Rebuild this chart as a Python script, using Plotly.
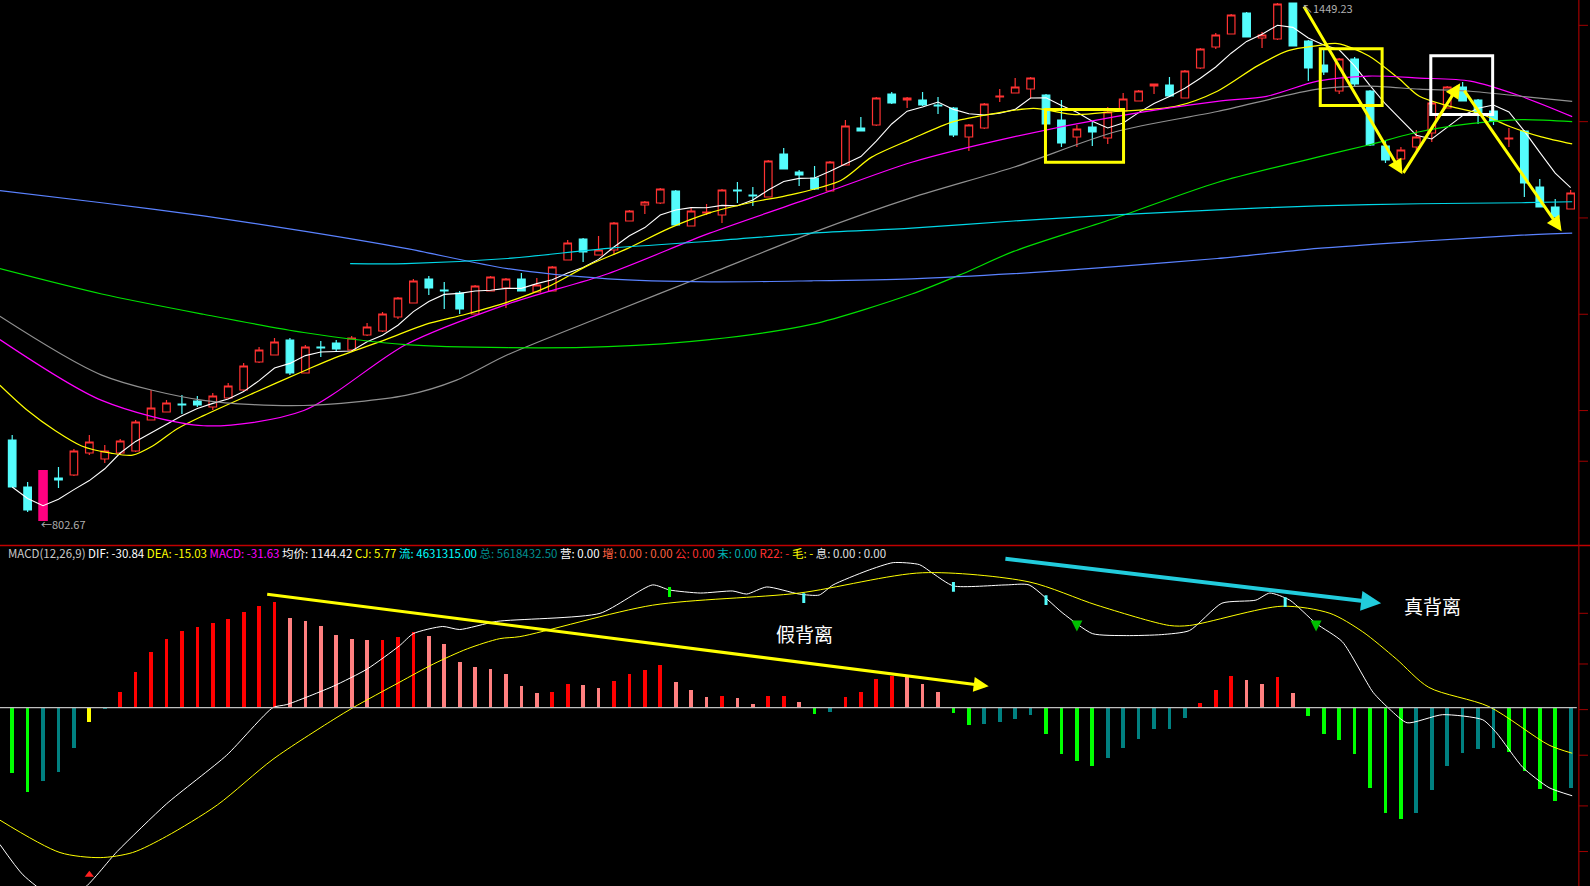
import plotly.graph_objects as go
import pandas as pd
import numpy as np

# ---------------- data ----------------
# Candles: direction, body top, body bottom, high, low (read on the screenshot, 886-px scale)
direction = list("CCMCRRRRRRRCCRRRRRCRCCRRRRRCCCRRRCRRRCRRRRRCRRRCCRCCCRRCRCRCCCRRRRRCCRCRRRRCRRRRCRRCCCRCCCRRRRCCCRCCCR")
body_top = [440,487,471,478,451,442,451,441,422,408,403,404,401,396,386,366,350,342,340,347,
            347,343,338,327,314,298,281,279,290,293,286,277,279,279,285,267,243,239,250,223,
            211,202,189,191,211,212,190,190,195,161,154,172,178,162,126,128,98,94,98,100,
            105,108,125,104,96,87,78,95,120,129,127,112,99,91,84,85,71,49,35,15,
            13,35,4,3,41,65,59,59,91,146,150,137,103,87,87,100,111,138,131,187,207,193]
body_bot = [487,510,520,480,475,453,459,453,451,420,412,405,405,407,398,390,362,355,373,373,
            348,349,350,335,331,317,303,288,291,309,314,291,288,291,292,291,260,252,255,250,
            221,205,203,225,226,213,215,191,196,197,169,175,189,191,165,131,125,103,100,105,
            106,135,137,128,97,93,89,124,143,137,132,138,111,101,86,96,98,68,47,34,
            37,38,39,46,68,72,91,84,145,160,159,147,133,108,101,113,121,139,183,207,217,209]
wick_hi = [435,482,471,467,449,435,445,439,420,390,400,395,396,393,383,363,347,338,338,345,
           341,340,336,323,312,297,279,276,282,291,285,276,278,273,278,266,240,238,236,222,
           210,201,188,190,207,204,189,182,187,160,148,170,166,161,120,117,97,92,97,92,
           97,107,124,103,89,78,77,94,100,125,122,107,93,90,84,77,70,48,33,14,
           12,32,3,3,40,48,58,57,90,140,147,130,102,86,82,99,107,128,130,179,199,190]
wick_lo = [487,512,520,488,476,455,463,455,452,420,412,414,407,410,398,391,363,355,375,373,
           357,351,351,336,332,319,303,295,309,314,314,291,308,291,292,291,260,262,255,255,
           221,214,204,225,226,215,223,203,206,197,169,186,190,191,165,131,126,104,108,106,
           114,137,151,129,102,93,98,124,147,147,146,144,111,101,94,97,98,69,49,34,
           37,48,40,46,81,75,94,87,146,163,159,153,142,108,101,124,125,147,197,207,217,209]

# calibration from the two printed extremes: 1449.23 (high) and 802.67 (low)
HI_LABEL, HI_Y = 1449.23, 3.0
LO_LABEL, LO_Y = 802.67, 520.0
def price(y):
    return LO_LABEL + (LO_Y - np.asarray(y, float)) * (HI_LABEL - LO_LABEL) / (LO_Y - HI_Y)
def price_main(y):  # readings taken on the 874-px view
    return price(np.asarray(y, float) * 886 / 874)

# moving averages read on the chart (candle index, screen y on 874-px view)
ma10_idx = [-0.8,1.0,2.8,4.5,6.4,7.8,9.1,10.7,12.4,15.6,18.9,20.9,24.2,26.8,29.4,32.1,34.7,37.3,39.9,42.6,45.2,47.8,50.5,53.7,55.7,58.3,61.0,63.6,66.2,68.9,71.5,75.4,78.1,80.7,82.7,84.6,85.9,87.9,89.9,91.2,93.2,95.1,97.1,99.1,101.1]
ma10_y = [380,405,425,440,447,449,440,423,410,388,366,353,335,320,310,298,283,262,245,225,210,200,192,178,155,137,120,112,107,113,110,105,90,65,50,45,43,55,78,95,105,112,125,135,142]
ma20_idx = [-0.8,5.8,12.4,18.9,25.5,32.1,38.6,45.2,51.8,58.3,64.9,71.5,78.1,81.3,84.6,87.9,91.2,94.5,97.8,101.1]
ma20_y = [335,395,420,405,340,300,270,230,195,160,135,115,100,95,80,75,77,80,95,115]
ma30_idx = [-0.8,5.8,12.4,18.9,25.5,28.8,32.1,38.6,45.2,51.8,58.3,64.9,71.5,78.1,84.6,87.9,91.2,94.5,97.8,101.1]
ma30_y = [312,370,395,400,390,375,350,310,270,230,195,165,130,110,88,85,88,90,95,100]
ma60_idx = [-0.8,5.8,12.4,18.9,25.5,32.1,38.6,45.2,51.8,58.3,61.6,64.9,71.5,78.1,84.6,87.9,91.2,94.5,97.8,101.1]
ma60_y = [265,290,310,328,340,343,342,335,320,290,270,248,215,180,155,143,130,122,118,120]
ma120_idx = [-0.8,5.8,12.4,18.9,25.5,32.1,38.6,45.2,51.8,58.3,64.9,71.5,78.1,84.6,91.2,97.8,101.1]
ma120_y = [188,200,213,228,245,265,275,278,277,275,270,263,255,245,238,232,230]
ma250_idx = [21.9,25.5,32.1,38.6,45.2,51.8,58.3,64.9,71.5,78.1,84.6,91.2,97.8,101.1]
ma250_y = [260,260,255,245,238,230,225,218,212,207,203,201,200,199]

# MACD histogram (screen px above zero line), DIF / DEA samples
hist_px = [-65,-84,-73,-64,-40,-15,-2,15,35,54,67,75,79,83,87,94,100,104,88,85,
           80,71,67,66,66,69,74,70,62,45,40,38,33,21,14,15,23,22,19,26,
           33,37,42,25,17,10,11,9,3,11,11,5,-7,-5,10,15,28,31,30,23,
           15,-6,-18,-17,-15,-12,-8,-26,-46,-53,-58,-50,-40,-31,-22,-22,-11,4,17,31,
           27,23,30,14,-9,-26,-32,-46,-80,-104,-110,-104,-82,-58,-45,-41,-40,-44,-63,-81,-93,-80]
dif_idx = [-0.8,0.7,2.5,4.5,6.8,10.0,13.9,16.9,17.8,20.8,23.0,25.1,26.0,27.9,29.0,31.4,38.1,41.5,42.6,44.6,46.7,47.6,48.9,51.0,52.3,53.2,55.4,57.1,58.8,59.7,61.0,64.4,65.9,68.1,70.0,72.2,74.5,76.3,78.4,80.6,81.5,82.8,84.5,86.2,88.2,89.3,90.4,92.7,95.3,96.2,97.9,99.6,101.1]
dif_px = [-135,-165,-185,-180,-142,-95,-47,0,3,21,38,61,73,80,77,85,93,121,116,113,115,112,119,112,111,121,135,143,141,132,120,121,121,93,73,71,72,76,103,106,113,106,83,65,15,-2,-15,-7,-12,-25,-59,-79,-87]
dea_idx = [-0.8,3.1,5.7,7.8,10.0,13.3,16.9,20.8,22.1,25.1,27.3,29.5,31.6,32.9,41.5,51.0,59.0,65.9,70.3,75.0,76.3,82.3,85.4,87.5,89.7,91.8,95.7,99.6,101.1]
dea_px = [-111,-143,-148,-143,-127,-96,-51,-12,0,25,43,58,68,70,101,113,133,124,101,81,81,100,93,75,48,20,1,-37,-45]
LAST_MACD = -31.63
U = LAST_MACD / hist_px[-1]

# ---------------- build ----------------
n = len(direction)
idx = np.arange(n)
top_p, bot_p = price(body_top), price(body_bot)
hi_p, lo_p = price(wick_hi), price(wick_lo)
up = np.array([d == "R" for d in direction])
open_p = np.where(up, bot_p, top_p)
close_p = np.where(up, top_p, bot_p)
ma5 = pd.Series(close_p).rolling(5, min_periods=1).mean()

W, H = 1590, 886
RW, RH = 1568, 874
def px(x): return x / RW
def py(y): return 1 - y / RH
MAIN_DOM = [py(538), 1]
SUB_DOM = [0, py(540)]

fig = go.Figure()
normal = np.array([d != "M" for d in direction])
fig.add_trace(go.Candlestick(
    x=idx[normal], open=open_p[normal], high=hi_p[normal], low=lo_p[normal], close=close_p[normal],
    increasing=dict(line=dict(color="#FF3232", width=1.2), fillcolor="#000000"),
    decreasing=dict(line=dict(color="#54FCFC", width=1.2), fillcolor="#54FCFC"),
    whiskerwidth=0, xaxis="x", yaxis="y", showlegend=False, hoverinfo="skip"))
m = ~normal
fig.add_trace(go.Candlestick(
    x=idx[m], open=open_p[m], high=hi_p[m], low=lo_p[m], close=close_p[m],
    increasing=dict(line=dict(color="#FF0080"), fillcolor="#FF0080"),
    decreasing=dict(line=dict(color="#FF0080"), fillcolor="#FF0080"),
    whiskerwidth=0, xaxis="x", yaxis="y", showlegend=False, hoverinfo="skip"))

def line(xs, ys, color, w=1.2, shape="spline"):
    fig.add_trace(go.Scatter(x=xs, y=ys, mode="lines", line=dict(color=color, width=w, shape=shape, smoothing=0.8),
                             xaxis="x", yaxis="y", showlegend=False, hoverinfo="skip"))

line(idx, ma5, "#FFFFFF", 1.1, "linear")
line(ma10_idx, price_main(ma10_y), "#FFFF00")
line(ma20_idx, price_main(ma20_y), "#FF00FF")
line(ma30_idx, price_main(ma30_y), "#909090")
line(ma60_idx, price_main(ma60_y), "#00E000")
line(ma120_idx, price_main(ma120_y), "#5A82FF")
line(ma250_idx, price_main(ma250_y), "#00D8E8")

# MACD
hist = np.array(hist_px) * U
colors = []
for i, v in enumerate(hist):
    prev = hist[i - 1] if i else 0
    if v >= 0:
        colors.append("#FF0000" if v >= prev else "#FF8080")
    else:
        colors.append("#008080" if v >= prev else "#00FF00")
colors[5] = "#FFFF00"
fig.add_trace(go.Bar(x=idx, y=hist, width=0.24, marker=dict(color=colors, line=dict(width=0)),
                     xaxis="x2", yaxis="y2", showlegend=False, hoverinfo="skip"))
fig.add_trace(go.Scatter(x=dif_idx, y=np.array(dif_px) * U, mode="lines",
                         line=dict(color="#FFFFFF", width=1, shape="spline", smoothing=0.6),
                         xaxis="x2", yaxis="y2", showlegend=False, hoverinfo="skip"))
fig.add_trace(go.Scatter(x=dea_idx, y=np.array(dea_px) * U, mode="lines",
                         line=dict(color="#FFFF00", width=1, shape="spline", smoothing=0.8),
                         xaxis="x2", yaxis="y2", showlegend=False, hoverinfo="skip"))
# signal markers
fig.add_trace(go.Scatter(x=[69.0, 84.5], y=[75 * U, 75 * U], mode="markers",
                         marker=dict(symbol="arrow-down", size=11, color="#00C000"),
                         xaxis="x2", yaxis="y2", showlegend=False, hoverinfo="skip"))
fig.add_trace(go.Scatter(x=[51.3, 61.0, 67.0, 82.5], y=[108 * U, 119 * U, 106 * U, 104 * U], mode="markers",
                         marker=dict(symbol="line-ns", size=7, line=dict(color="#54FCFC", width=3)),
                         xaxis="x2", yaxis="y2", showlegend=False, hoverinfo="skip"))
fig.add_trace(go.Scatter(x=[42.6], y=[114 * U], mode="markers",
                         marker=dict(symbol="line-ns", size=7, line=dict(color="#00FF00", width=3)),
                         xaxis="x2", yaxis="y2", showlegend=False, hoverinfo="skip"))
fig.add_trace(go.Scatter(x=[5.0], y=[-165 * U], mode="markers",
                         marker=dict(symbol="triangle-up", size=8, color="#FF2020"),
                         xaxis="x2", yaxis="y2", showlegend=False, hoverinfo="skip"))

xr = [-0.79, 101.4]
ax_common = dict(showgrid=False, zeroline=False, showticklabels=False, showline=False, ticks="")
fig.update_layout(
    width=W, height=H, paper_bgcolor="#000000", plot_bgcolor="#000000",
    margin=dict(l=0, r=0, t=0, b=0),
    xaxis=dict(domain=[0, px(1555)], range=xr, rangeslider=dict(visible=False), **ax_common),
    yaxis=dict(domain=MAIN_DOM, range=[price_main(538), price_main(0)], **ax_common),
    xaxis2=dict(domain=[0, px(1555)], range=xr, anchor="y2", **ax_common),
    yaxis2=dict(domain=SUB_DOM, range=[-176 * abs(U), 158 * abs(U)], anchor="x2", **ax_common),
    bargap=0, font=dict(family="Noto Sans CJK SC, DejaVu Sans", color="#FFFFFF"),
)

shapes = []
shapes.append(dict(type="line", xref="paper", yref="paper", x0=0, x1=1, y0=py(538), y1=py(538), line=dict(color="#C00000", width=1.5)))
shapes.append(dict(type="line", xref="paper", yref="paper", x0=px(1557), x1=px(1557), y0=0, y1=1, line=dict(color="#A00000", width=1.2)))
for ty in [25, 120, 215, 310, 405, 455, 605, 655, 700, 745, 795, 840]:
    shapes.append(dict(type="line", xref="paper", yref="paper", x0=px(1557), x1=px(1566), y0=py(ty), y1=py(ty), line=dict(color="#A00000", width=1)))
shapes.append(dict(type="line", xref="paper", yref="y2", x0=0, x1=px(1555), y0=0, y1=0, line=dict(color="#C0C0C0", width=1.2)))
for (x0, y0, x1, y1, c) in [(1031, 108, 1108, 160, "#FFFF00"), (1302, 48, 1363, 104, "#FFFF00"), (1411, 55, 1472, 113, "#FFFFFF")]:
    shapes.append(dict(type="rect", xref="paper", yref="paper", x0=px(x0), x1=px(x1), y0=py(y0), y1=py(y1),
                       line=dict(color=c, width=3)))
fig.update_layout(shapes=shapes)

S = W / RW
def arrow(tail, head, color, width):
    fig.add_annotation(xref="paper", yref="paper", x=px(head[0]), y=py(head[1]),
                       ax=(tail[0] - head[0]) * S, ay=(tail[1] - head[1]) * S, axref="pixel", ayref="pixel",
                       text="", showarrow=True, arrowhead=2, arrowsize=1.0, arrowwidth=width, arrowcolor=color)

arrow((1285, 5), (1383, 172), "#FFFF00", 3)
arrow((1383, 172), (1440, 82), "#FFFF00", 3)
arrow((1443, 88), (1540, 228), "#FFFF00", 3)
arrow((262, 586), (975, 677), "#FFFF00", 3)
arrow((990, 551), (1362, 595), "#22CCDD", 4)

def text(x, y, s, size=12, color="#FFFFFF", anchor="left"):
    fig.add_annotation(xref="paper", yref="paper", x=px(x), y=py(y), text=s, showarrow=False,
                       xanchor=anchor, yanchor="middle", font=dict(size=size, color=color))

text(1282, 8, "↖1449.23", 11, "#B0B0B0")
text(38, 517, "←802.67", 11, "#B0B0B0")
text(793, 625, "假背离", 19, "#FFFFFF", "center")
text(1413, 597, "真背离", 19, "#FFFFFF", "center")

segs = [("MACD(12,26,9) ", "#C8C8C8"), ("DIF: -30.84 ", "#FFFFFF"), ("DEA: -15.03 ", "#FFFF00"),
        ("MACD: -31.63 ", "#FF00FF"), ("均价: 1144.42 ", "#FFFFFF"), ("CJ: 5.77 ", "#FFFF00"),
        ("流: 4631315.00 ", "#00FFFF"), ("总: 5618432.50 ", "#009090"), ("营: 0.00 ", "#FFFFFF"),
        ("增: 0.00 : 0.00 ", "#FF6040"), ("公: 0.00 ", "#FF3030"), ("末: 0.00 ", "#00B0B0"),
        ("R22: - ", "#FF3030"), ("毛: - ", "#FFFF00"), ("息: 0.00 : 0.00", "#E0E0E0")]
header = "".join(f"<span style='color:{c}'>{s}</span>" for s, c in segs)
text(6, 546, header, 11.5)

fig.write_html("out.html", config={"displayModeBar": False})
with open("out.html", "r", encoding="utf-8") as f:
    html = f.read()
html = html.replace("<head>", "<head><style>html,body{margin:0;padding:0;background:#000;}</style>", 1)
with open("out.html", "w", encoding="utf-8") as f:
    f.write(html)
